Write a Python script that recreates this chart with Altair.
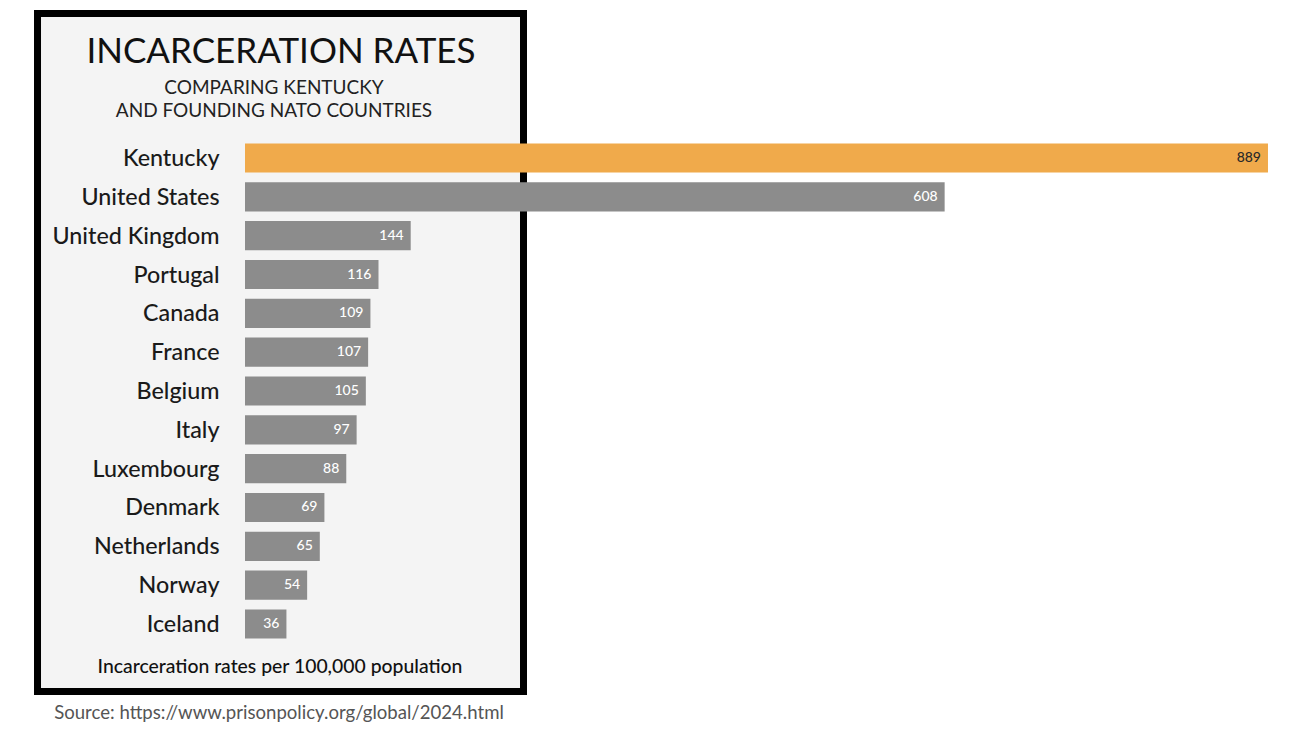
import altair as alt
import pandas as pd

countries = ["Kentucky", "United States", "United Kingdom", "Portugal", "Canada", "France",
             "Belgium", "Italy", "Luxembourg", "Denmark", "Netherlands", "Norway", "Iceland"]
rates = [889, 608, 144, 116, 109, 107, 105, 97, 88, 69, 65, 54, 36]
highlight = [True] + [False] * 12

title_text = "INCARCERATION RATES"
subtitle_lines = ["COMPARING KENTUCKY", "AND FOUNDING NATO COUNTRIES"]
note_text = "Incarceration rates per 100,000 population"
source_text = "Source: https://www.prisonpolicy.org/global/2024.html"

df = pd.DataFrame({"country": countries, "rate": rates, "hl": highlight})

FONT = "Lato"
OX, OY = 245, 138.6  # page position of plot origin
W, H = 1023, 504.8

def px(x):
    return x - OX

def py(y):
    return y - OY

one = pd.DataFrame({"k": [0]})

box = alt.Chart(one).mark_rect(
    fill="#f4f4f4", stroke="#000000", strokeWidth=7
).encode(
    x=alt.value(px(37.5)), x2=alt.value(px(523.5)),
    y=alt.value(py(13.5)), y2=alt.value(py(691.5))
)

y_enc = alt.Y("country:N", sort=countries,
              scale=alt.Scale(paddingInner=0.25, paddingOuter=0.125),
              axis=alt.Axis(title=None, ticks=False, domain=False, grid=False,
                            labelFont=FONT, labelFontSize=23.3, labelColor="#1a1a1a",
                            labelPadding=26, labelFontWeight=500, labelOffset=1, zindex=2))
x_enc = alt.X("rate:Q", scale=alt.Scale(domain=[0, 889], nice=False, zero=True), axis=None)

bars = alt.Chart(df).mark_bar().encode(
    x=x_enc, y=y_enc,
    color=alt.condition("datum.hl", alt.value("#f0aa4b"), alt.value("#8c8c8c"))
)

labels = alt.Chart(df).mark_text(align="right", dx=-7, font=FONT, fontSize=14, fontWeight=500).encode(
    x=x_enc, y=y_enc,
    text="rate:Q",
    color=alt.condition("datum.hl", alt.value("#2a2a2a"), alt.value("#ffffff"))
)

def txt(s, x, y, size, color="#111111", weight="normal"):
    return alt.Chart(pd.DataFrame({"t": [s]})).mark_text(
        align="center", baseline="alphabetic", font=FONT, fontSize=size,
        fontWeight=weight, color=color
    ).encode(text="t:N", x=alt.value(px(x)), y=alt.value(py(y)))

texts = [
    txt(title_text, 281, 63, 35),
    txt(subtitle_lines[0], 274, 94, 19, "#222222"),
    txt(subtitle_lines[1], 274, 117, 19, "#222222"),
    txt(note_text, 280, 673, 19.4, "#111111", 500),
    txt(source_text, 279, 719, 18.6, "#555555"),
]

chart = alt.layer(box, bars, labels, *texts).properties(
    width=W, height=H,
    autosize=alt.AutoSizeParams(type="none"),
    padding={"left": OX - 8, "top": OY - 8, "right": 20, "bottom": 85},
    background="#ffffff"
).configure_view(stroke=None)

chart.save("out.html", embed_options={"renderer": "svg", "actions": False})
